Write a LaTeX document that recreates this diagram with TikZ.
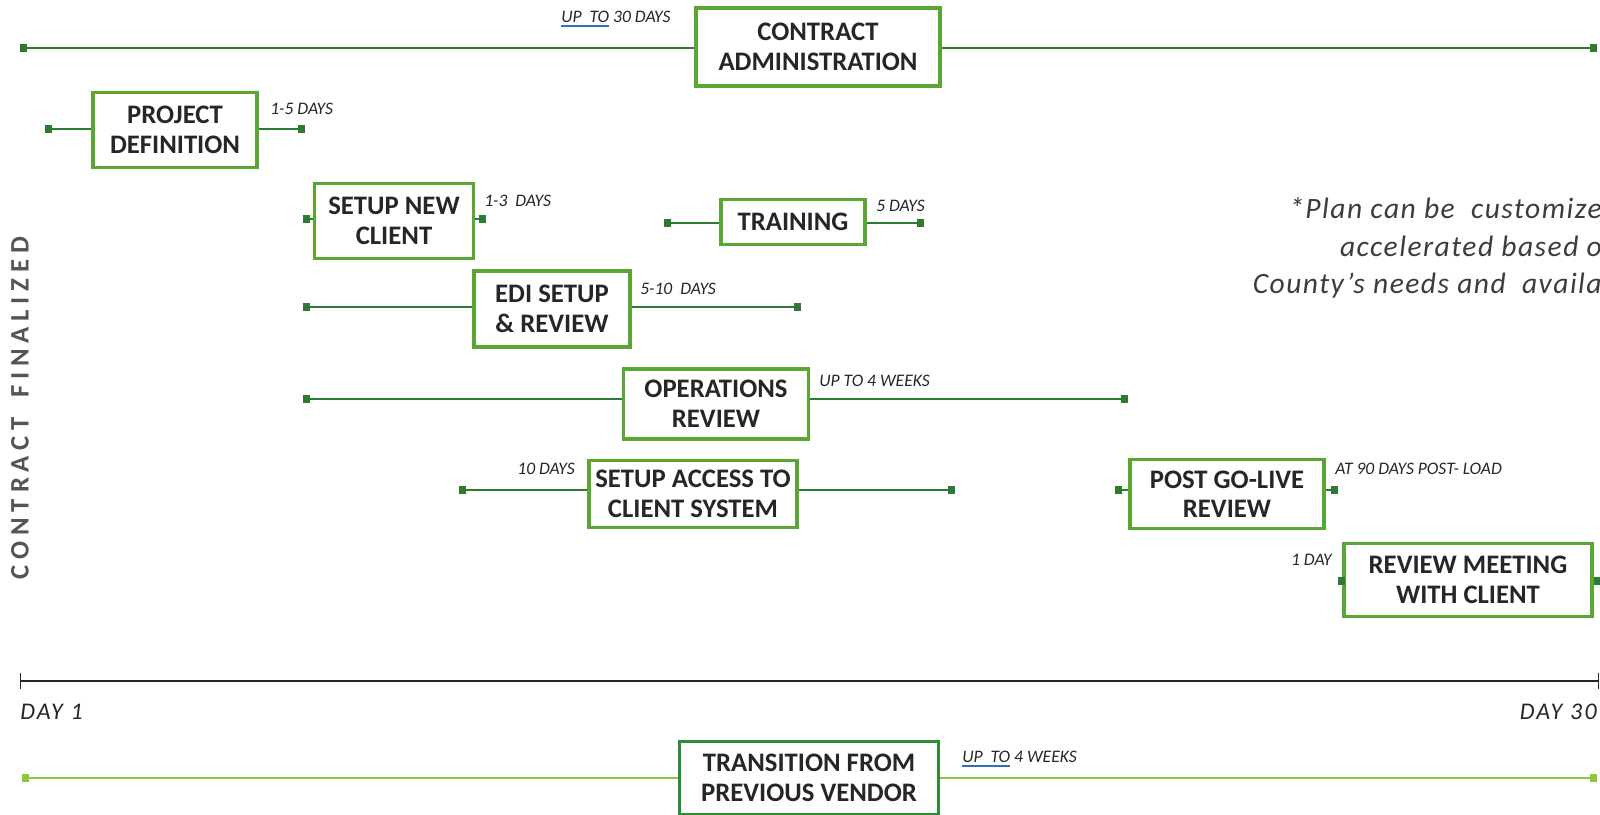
\documentclass[tikz,border=0pt]{standalone}
\usepackage{fontspec}
\setmainfont{Carlito}
\newfontfamily\notefont[LetterSpace=5]{Carlito}
\newfontfamily\sidefont[LetterSpace=22]{Carlito}
\newfontfamily\dayfont[LetterSpace=10]{Carlito}
\usepackage{tikz}
\usetikzlibrary{positioning, arrows.meta}

\definecolor{boxgreen}{HTML}{5AA632}
\definecolor{transgreen}{HTML}{2E8B38}
\definecolor{linegreen}{HTML}{2F7A33}
\definecolor{limegreen}{HTML}{8CC63F}
\definecolor{ulblue}{HTML}{2F6FC0}
\definecolor{textgray}{HTML}{262626}
\definecolor{notegray}{HTML}{3C3C3C}
\definecolor{sidegray}{HTML}{555555}

% blue underline under part of a label
\newcommand\blueul[1]{\setbox0\hbox{#1}\rlap{\color{ulblue}\rule[-2.6pt]{\wd0}{1.3pt}}#1}

\tikzset{
  task/.style={draw=boxgreen, line width=2.6pt, fill=white, align=center,
    font=\bfseries\fontsize{19}{21}\selectfont, text=textgray, inner sep=2pt},
  bar/.style={draw=linegreen, line width=1.3pt},
  dur/.style={font=\itshape\fontsize{12.5}{14}\selectfont, text=textgray, inner sep=0pt},
}

\begin{document}
\begin{tikzpicture}[x=0.025cm, y=-0.025cm]
    \useasboundingbox (0,0) rectangle (1600,815);

    % Contract administration
    \node[task, minimum width=6.1cm, minimum height=1.95cm] (admin) at (818,47) {CONTRACT\\ADMINISTRATION};
    \coordinate (admin-s) at (20,48);
    \coordinate (admin-e) at (1597,48);
    \draw[bar, {Square[length=5pt, width=5pt]}-] (admin-s) -- (admin-s -| admin.west);
    \draw[bar, -{Square[length=5pt, width=5pt]}] (admin-e -| admin.east) -- (admin-e);
    \node[dur, anchor=west] at (561,19) {\blueul{UP\ \ TO} 30 DAYS};

    % Project definition
    \node[task, minimum width=4.1cm, minimum height=1.875cm] (proj) at (175,130) {PROJECT\\DEFINITION};
    \coordinate (proj-s) at (45,129);
    \coordinate (proj-e) at (305,129);
    \draw[bar, {Square[length=5pt, width=5pt]}-] (proj-s) -- (proj-s -| proj.west);
    \draw[bar, -{Square[length=5pt, width=5pt]}] (proj-e -| proj.east) -- (proj-e);
    \node[dur, anchor=west] at (270,109) {1-5 DAYS};

    % Setup new client
    \node[task, minimum width=3.975cm, minimum height=1.875cm] (newcl) at (394,221) {SETUP NEW\\CLIENT};
    \coordinate (newcl-s) at (303,219);
    \coordinate (newcl-e) at (486,219);
    \draw[bar, {Square[length=5pt, width=5pt]}-] (newcl-s) -- (newcl-s -| newcl.west);
    \draw[bar, -{Square[length=5pt, width=5pt]}] (newcl-e -| newcl.east) -- (newcl-e);
    \node[dur, anchor=west] at (484,201) {1-3\ \ DAYS};

    % Training
    \node[task, minimum width=3.6cm, minimum height=1.125cm] (train) at (793,222) {TRAINING};
    \coordinate (train-s) at (664,223);
    \coordinate (train-e) at (924,223);
    \draw[bar, {Square[length=5pt, width=5pt]}-] (train-s) -- (train-s -| train.west);
    \draw[bar, -{Square[length=5pt, width=5pt]}] (train-e -| train.east) -- (train-e);
    \node[dur, anchor=west] at (876,206) {5 DAYS};

    % EDI setup
    \node[task, minimum width=3.9cm, minimum height=1.9cm] (edi) at (552,309) {EDI SETUP\\\& REVIEW};
    \coordinate (edi-s) at (303,307);
    \coordinate (edi-e) at (801,307);
    \draw[bar, {Square[length=5pt, width=5pt]}-] (edi-s) -- (edi-s -| edi.west);
    \draw[bar, -{Square[length=5pt, width=5pt]}] (edi-e -| edi.east) -- (edi-e);
    \node[dur, anchor=west] at (640,289) {5-10\ \ DAYS};

    % Operations review
    \node[task, minimum width=4.625cm, minimum height=1.75cm] (ops) at (716,404) {OPERATIONS\\REVIEW};
    \coordinate (ops-s) at (303,399);
    \coordinate (ops-e) at (1128,399);
    \draw[bar, {Square[length=5pt, width=5pt]}-] (ops-s) -- (ops-s -| ops.west);
    \draw[bar, -{Square[length=5pt, width=5pt]}] (ops-e -| ops.east) -- (ops-e);
    \node[dur, anchor=west] at (819,381) {UP TO 4 WEEKS};

    % Setup access
    \node[task, minimum width=5.2cm, minimum height=1.675cm] (access) at (693,494) {SETUP ACCESS TO\\CLIENT SYSTEM};
    \coordinate (access-s) at (459,490);
    \coordinate (access-e) at (955,490);
    \draw[bar, {Square[length=5pt, width=5pt]}-] (access-s) -- (access-s -| access.west);
    \draw[bar, -{Square[length=5pt, width=5pt]}] (access-e -| access.east) -- (access-e);
    \node[dur, anchor=east] at (575,469) {10 DAYS};

    % Post go-live
    \node[task, minimum width=4.85cm, minimum height=1.725cm] (golive) at (1227,494) {POST GO-LIVE\\REVIEW};
    \coordinate (golive-s) at (1115,490);
    \coordinate (golive-e) at (1338,490);
    \draw[bar, {Square[length=5pt, width=5pt]}-] (golive-s) -- (golive-s -| golive.west);
    \draw[bar, -{Square[length=5pt, width=5pt]}] (golive-e -| golive.east) -- (golive-e);
    \node[dur, anchor=west] at (1335,469) {AT 90 DAYS POST- LOAD};

    % Review meeting
    \node[task, minimum width=6.2cm, minimum height=1.825cm] (meet) at (1468,580) {REVIEW MEETING\\WITH CLIENT};
    \coordinate (meet-s) at (1338,581);
    \coordinate (meet-e) at (1601,581);
    \draw[bar, {Square[length=5pt, width=5pt]}-] (meet-s) -- (meet-s -| meet.west);
    \draw[bar, -{Square[length=5pt, width=5pt]}] (meet-e -| meet.east) -- (meet-e);
    \node[dur, anchor=east] at (1332,560) {1 DAY};

    % Note
    \node[anchor=east, align=right, text=notegray, inner sep=0pt,
      font=\notefont\itshape\fontsize{21}{26.5}\selectfont] (note) at (1602,248)
      {*Plan can be\ \ customize\\accelerated based o\\County’s needs and\ \ availa};

    % Contract finalized
    \node[rotate=90, text=sidegray, inner sep=0pt,
      font=\sidefont\bfseries\fontsize{19}{22}\selectfont] (cf) at (20,408) {CONTRACT\hspace{5pt} FINALIZED};

    % Day axis
    \coordinate (day1) at (20,681);
    \coordinate (day30) at (1599,681);
    \draw[line width=1pt, draw=black!85, {Bar[width=11pt]}-{Bar[width=11pt]}] (day1) -- (day30);
    \node[anchor=west, inner sep=0pt, text=textgray, font=\dayfont\itshape\fontsize{17}{19}\selectfont] (d1) at (20,712) {DAY 1};
    \node[anchor=east, inner sep=0pt, text=textgray, font=\dayfont\itshape\fontsize{17}{19}\selectfont] (d30) at (1597,712) {DAY 30};

    % Transition from previous vendor
    \node[task, draw=transgreen, minimum width=6.475cm, minimum height=1.825cm] (trans) at (809,778) {TRANSITION FROM\\PREVIOUS VENDOR};
    \coordinate (trans-s) at (22,778);
    \coordinate (trans-e) at (1597,778);
    \draw[bar, draw=limegreen, fill=limegreen, {Square[length=5pt, width=5pt]}-] (trans-s) -- (trans-s -| trans.west);
    \draw[bar, draw=limegreen, fill=limegreen, -{Square[length=5pt, width=5pt]}] (trans-e -| trans.east) -- (trans-e);
    \node[dur, anchor=west] at (962,759) {\blueul{UP\ \ TO} 4 WEEKS};
\end{tikzpicture}
\end{document}
